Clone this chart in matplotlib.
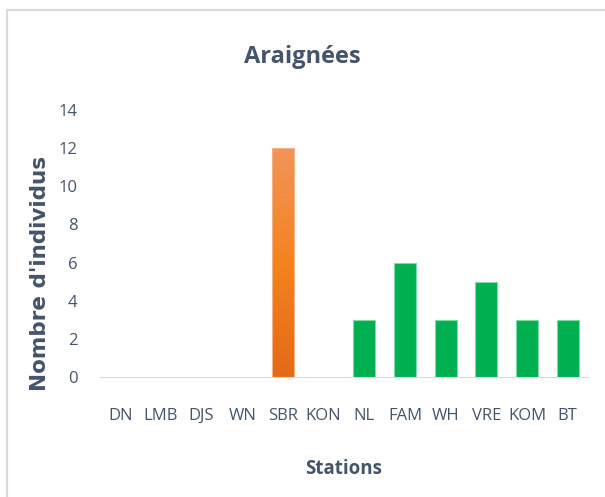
import numpy as np
import matplotlib.pyplot as plt
from matplotlib.patches import Rectangle
from matplotlib.colors import LinearSegmentedColormap

stations = ['DN', 'LMB', 'DJS', 'WN', 'SBR', 'KON', 'NL', 'FAM', 'WH', 'VRE', 'KOM', 'BT']
counts = [0, 0, 0, 0, 12, 0, 3, 6, 3, 5, 3, 3]
highlight = 'SBR'

txt = '#44546A'
plt.rcParams['font.family'] = ['Open Sans', 'DejaVu Sans']

fig = plt.figure(figsize=(6.05, 4.97), dpi=100)
ax = fig.add_axes([0.165, 0.241, 0.807, 0.538])

# frame around the chart
fig.patches.append(Rectangle((7 / 605, -0.1), 1.2, 1 - 10 / 497 + 0.1,
                             transform=fig.transFigure, fill=False,
                             edgecolor='#D9D9D9', lw=1.5))

x = np.arange(len(stations))
w = 0.54
cm = LinearSegmentedColormap.from_list('o', ['#E36A17', '#F5821F', '#F0955A'])
for xi, name, v in zip(x, stations, counts):
    if v == 0:
        continue
    if name == highlight:
        b = ax.bar(xi, v, width=w, color='none', edgecolor='#F4B183', lw=0.8, zorder=3)[0]
        grad = np.linspace(0, 1, 256).reshape(-1, 1)
        im = ax.imshow(grad, cmap=cm, aspect='auto', origin='lower',
                       extent=[xi - w / 2, xi + w / 2, 0, v], zorder=2)
        im.set_clip_path(b)
    else:
        ax.bar(xi, v, width=w, color='#00B050', edgecolor='#7FD8A7', lw=0.8, zorder=3)

ax.set_xlim(-0.5, len(stations) - 0.5)
ax.set_ylim(0, 14)
ax.set_yticks(range(0, 15, 2))
ax.set_xticks(x)
ax.set_xticklabels(stations)
ax.tick_params(length=0, labelsize=12, colors=txt)
ax.tick_params(axis='x', pad=22)
ax.tick_params(axis='y', pad=16)
for s in ['top', 'right', 'left']:
    ax.spines[s].set_visible(False)
ax.spines['bottom'].set_color('#D9D9D9')

ax.set_xlabel('Stations', fontsize=13.5, fontweight='bold', color=txt, labelpad=25)
ax.set_ylabel("Nombre d'individus", fontsize=15.5, fontweight='bold', color=txt,
              family='DejaVu Sans', va='center')
ax.yaxis.set_label_coords(-0.123, 0.39)
fig.text(0.5, 0.885, 'Araignées', ha='center', va='center', fontsize=17,
         fontweight='bold', color=txt)

fig.savefig('out.png', dpi=100)
